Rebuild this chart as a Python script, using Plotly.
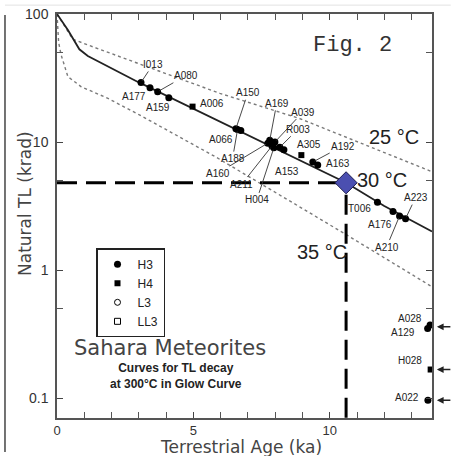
import math
import plotly.graph_objects as go

# ---------------- data ----------------
# TL decay curves (Natural TL in krad vs terrestrial age in ka)
age_25 = [0, 0.58, 1.13, 3.1, 5.97, 8.88, 13.75]
tl_25 = [100, 63.5, 57.3, 40, 24, 15.3, 5.86]
age_30 = [0, 0.4, 0.82, 1.13, 2.95, 6.0, 9.0, 10.6, 12.0, 13.75]
tl_30 = [100, 75, 53, 47, 29.6, 14.3, 7.0, 4.8, 3.16, 2.0]
age_35 = [0, 0.06, 0.15, 0.4, 0.89, 1.85, 3.02, 5.84, 8.88, 10.64, 13.75]
tl_35 = [100, 60, 48, 32.4, 27, 22, 16.3, 7.6, 3.13, 1.87, 0.74]

# H3 meteorites
h3_names = ["I013", "A177", "A080", "A159", "A150", "A066", "A188", "A169", "A160",
            "A039", "A211", "H004", "R003", "A153", "A192", "A163", "T006", "A176",
            "A210", "A223", "A028", "A129", "A022"]
h3_age = [3.08, 3.41, 3.69, 4.10, 6.56, 6.74, 6.62, 7.80, 7.73,
          7.99, 7.88, 7.95, 8.17, 8.32, 9.38, 9.56, 11.75, 12.32,
          12.56, 12.78, 13.68, 13.59, 13.60]
h3_tl = [29.2, 26.5, 24.7, 22.2, 12.7, 12.3, 12.5, 10.3, 9.8,
         10.0, 9.3, 9.0, 9.1, 8.7, 6.98, 6.6, 3.38, 2.86,
         2.64, 2.52, 0.372, 0.349, 0.096]
# H4 meteorites
h4_names = ["A006", "A305", "H028"]
h4_age = [4.97, 8.96, 13.70]
h4_tl = [18.9, 7.9, 0.167]

# highlighted reading
mark_age = [10.6]
mark_tl = [4.8]

# off-scale (arrowed) samples
arrow_tl = [0.36, 0.167, 0.096]

x_range = [0, 13.75]
y_range_log = [-1.156, 2.0]
x_ticks = [0, 5, 10]
y_ticks = [0.1, 1, 10, 100]
y_ticktext = ["0.1", "1", "10", "100"]
y_minor = [0.5, 5, 50]

# ---------------- styles (label offsets in pixels) ----------------
label_pos = {
    # name: (dx, dy, leader)
    "I013": (12, -18, True), "A177": (-16, 9, False), "A080": (28, -16, True),
    "A159": (-11, 10, False), "A006": (19, -3, False), "A150": (12, -36, True),
    "A066": (-20, 9, False), "A188": (-5, 29, True), "A169": (7, -37, True),
    "A039": (28, -30, True), "R003": (18, -18, True), "A160": (-50, 30, True),
    "A211": (-30, 38, True), "H004": (-17, 52, True), "A153": (3, 22, False),
    "A305": (8, -11, False), "A192": (30, -16, True), "A163": (20, -2, False),
    "T006": (-18, 6, False), "A176": (-13, 13, False), "A210": (-13, 31, True),
    "A223": (10, -21, True), "A028": (-20, -7, False), "A129": (-25, 4, False),
    "H028": (-21, -9, False), "A022": (-21, -3, False),
}

LF = "Liberation Sans, Arial, sans-serif"
GF = "DejaVu Sans, sans-serif"

fig = go.Figure()

fig.add_trace(go.Scatter(x=age_25, y=tl_25, mode="lines", showlegend=False,
                         line=dict(color="#7a7a7a", width=1.4, dash="dot")))
fig.add_trace(go.Scatter(x=age_35, y=tl_35, mode="lines", showlegend=False,
                         line=dict(color="#7a7a7a", width=1.4, dash="dot")))
fig.add_trace(go.Scatter(x=age_30, y=tl_30, mode="lines", showlegend=False,
                         line=dict(color="#222", width=1.8)))

# dashed guide lines to the highlighted reading
fig.add_trace(go.Scatter(x=[0, mark_age[0]], y=[mark_tl[0], mark_tl[0]], mode="lines",
                         showlegend=False, line=dict(color="black", width=3, dash="20px,9px")))
fig.add_trace(go.Scatter(x=[mark_age[0], mark_age[0]], y=[0.07, mark_tl[0]], mode="lines",
                         showlegend=False, line=dict(color="black", width=3, dash="20px,9px")))

fig.add_trace(go.Scatter(x=h3_age, y=h3_tl, mode="markers", name="H3", cliponaxis=False,
                         marker=dict(symbol="circle", size=7, color="black")))
fig.add_trace(go.Scatter(x=h4_age, y=h4_tl, mode="markers", name="H4", cliponaxis=False,
                         marker=dict(symbol="square", size=6, color="black")))
fig.add_trace(go.Scatter(x=[None], y=[None], mode="markers", name="L3",
                         marker=dict(symbol="circle-open", size=6, color="black")))
fig.add_trace(go.Scatter(x=[None], y=[None], mode="markers", name="LL3",
                         marker=dict(symbol="square-open", size=6, color="black")))

fig.add_trace(go.Scatter(x=mark_age, y=mark_tl, mode="markers", showlegend=False, cliponaxis=False,
                         marker=dict(symbol="diamond", size=17, color="#4b4fb0",
                                     line=dict(color="#1c1c50", width=1))))

ann = []
for names, ages, tls in ((h3_names, h3_age, h3_tl), (h4_names, h4_age, h4_tl)):
    for n, a, t in zip(names, ages, tls):
        dx, dy, lead = label_pos[n]
        if lead:
            ann.append(dict(x=a, y=math.log10(t), text=n, showarrow=True, arrowhead=0,
                            arrowwidth=0.9, arrowcolor="#333", ax=dx, ay=dy, standoff=2,
                            font=dict(family=LF, size=10, color="#222")))
        else:
            ann.append(dict(x=a, y=math.log10(t), text=n, showarrow=False,
                            xshift=dx, yshift=-dy,
                            font=dict(family=LF, size=10, color="#222")))

# arrows just outside the right axis for off-scale samples
span = y_range_log[1] - y_range_log[0]
for t in arrow_tl:
    ann.append(dict(xref="paper", yref="paper", x=1.013,
                    y=(math.log10(t) - y_range_log[0]) / span,
                    text="", showarrow=True, arrowhead=2,
                    arrowsize=0.9, arrowwidth=1.5, arrowcolor="#222", ax=15, ay=0))

def ptext(x, y, text, size, family, color="#222", angle=0):
    return dict(xref="paper", yref="paper", x=x, y=y, text=text, showarrow=False,
                xanchor="center", yanchor="middle", textangle=angle,
                font=dict(family=family, size=size, color=color))

ann += [
    dict(x=12.36, y=1.039, text="25 °C", showarrow=False, xanchor="center", yanchor="middle",
         font=dict(family=LF, size=20, color="#222")),
    dict(x=11.92, y=0.703, text="30 °C", showarrow=False, xanchor="center", yanchor="middle",
         font=dict(family=LF, size=20, color="#222")),
    dict(x=9.73, y=0.141, text="35 °C", showarrow=False, xanchor="center", yanchor="middle",
         font=dict(family=LF, size=20, color="#222")),
    ptext(0.789, 0.923, "Fig. 2", 22, "Liberation Mono, Courier New, monospace", "#333"),
    ptext(0.301, 0.173, "Sahara Meteorites", 21, GF, "#444"),
    ptext(0.318, 0.103, "<b>Curves for TL decay<br>at 300°C in Glow Curve</b>", 12, LF, "#222"),
    ptext(-0.085, 0.53, "Natural TL (krad)", 17, GF, "#444", -90),
    ptext(0.491, -0.072, "Terrestrial Age (ka)", 17, GF, "#444"),
]

fig.update_layout(
    width=452, height=456,
    margin=dict(l=57, r=20, t=14, b=38, autoexpand=False),
    paper_bgcolor="white", plot_bgcolor="white",
    annotations=ann,
    legend=dict(x=0.104, y=0.42, xanchor="left", yanchor="top",
                bordercolor="#222", borderwidth=1.5, bgcolor="white",
                font=dict(family=LF, size=12, color="#222"),
                itemwidth=30, tracegroupgap=0),
    shapes=[
        dict(type="line", xref="paper", yref="paper", x0=-0.1387, x1=-0.1387, y0=0.9975, y1=-0.084,
             line=dict(color="#444", width=1.5)),
        dict(type="line", xref="paper", yref="paper", x0=-0.1387, x1=1.05, y0=1.022, y1=1.022,
             line=dict(color="#e2e2e2", width=1)),
    ],
)

fig.update_xaxes(range=x_range, tickvals=x_ticks, ticks="inside", ticklen=6, automargin=False,
                 showline=True, linecolor="#555", linewidth=1.5, mirror="ticks",
                 showgrid=False, zeroline=False, ticklabeloverflow="allow",
                 tickfont=dict(family=LF, size=13, color="#333"),
                 minor=dict(dtick=1, ticks="inside", ticklen=6, tickcolor="#555", showgrid=False))
fig.update_yaxes(type="log", range=y_range_log, tickvals=y_ticks, ticktext=y_ticktext,
                 ticks="inside", ticklen=6, ticklabelstandoff=4, automargin=False,
                 ticklabeloverflow="allow",
                 showline=True, linecolor="#555", linewidth=1.5, mirror="ticks",
                 showgrid=False, zeroline=False,
                 tickfont=dict(family=LF, size=14, color="#333"),
                 minor=dict(tickvals=y_minor, ticks="inside", ticklen=6, tickcolor="#555", showgrid=False))

# remove the browser's default 8px page margin so the figure fills the window exactly
fig.write_html("out.html", config={"displayModeBar": False},
               post_script="document.body.style.margin='0';")
